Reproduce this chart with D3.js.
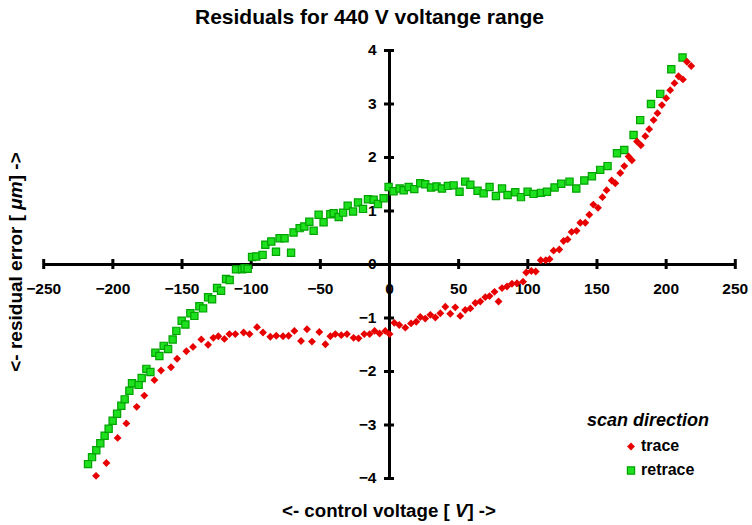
<!DOCTYPE html>
<html>
<head>
<meta charset="utf-8">
<script src="https://cdn.jsdelivr.net/npm/d3@7"></script>
<style>
  body { margin: 0; background: #fff; }
  svg { display: block; font-family: "Liberation Sans", Arial, sans-serif; }
</style>
</head>
<body>
<div id="chart"></div>
<script>
// Residuals for 440 V voltage range: trace vs retrace scan
const xTicks = [-250, -200, -150, -100, -50, 0, 50, 100, 150, 200, 250];
const yTicks = [-4, -3, -2, -1, 0, 1, 2, 3, 4];

const traceV = [-211.8,-204.3,-196.2,-189.9,-182.4,-176.9,-169.6,-164.8,-157.6,-153.2,-146.5,-141.7,-135.7,-130.8,-127.0,-123.4,-119.0,-115.4,-111.1,-105.1,-100.8,-95.4,-91.1,-85.8,-81.5,-76.6,-72.6,-68.4,-63.6,-59.3,-55.7,-50.4,-46.0,-42.4,-38.8,-34.5,-30.4,-25.6,-22.0,-17.9,-14.0,-10.4,-6.8,-2.7,0.4,3.8,7.4,11.8,15.9,19.7,22.6,26.2,29.9,33.5,37.1,40.7,44.3,47.9,51.5,55.1,58.8,62.4,66.0,69.6,72.7,76.3,79.2,81.7,85.3,88.9,92.5,96.9,99.2,102.9,106.1,109.7,113.3,116.1,119.0,123.1,126.2,129.1,132.0,135.6,138.3,141.9,144.8,147.7,151.1,154.3,157.3,161.0,163.6,167.2,170.1,173.2,175.6,179.3,182.1,185.3,188.1,191.3,194.1,197.3,200.4,203.3,206.4,209.3,212.5,215.4,218.5];
const traceR = [-3.96,-3.72,-3.25,-2.98,-2.67,-2.46,-2.17,-1.99,-1.93,-1.77,-1.63,-1.55,-1.41,-1.51,-1.38,-1.35,-1.40,-1.31,-1.31,-1.28,-1.31,-1.18,-1.28,-1.36,-1.34,-1.35,-1.34,-1.25,-1.44,-1.22,-1.45,-1.27,-1.50,-1.35,-1.31,-1.33,-1.31,-1.38,-1.39,-1.31,-1.31,-1.25,-1.30,-1.25,-1.31,-1.10,-1.14,-1.19,-1.11,-1.08,-0.99,-1.02,-0.95,-1.00,-0.92,-0.80,-0.93,-0.81,-0.97,-0.86,-0.83,-0.73,-0.70,-0.62,-0.60,-0.52,-0.70,-0.45,-0.42,-0.37,-0.36,-0.33,-0.16,-0.13,-0.14,0.07,0.07,0.09,0.25,0.27,0.43,0.46,0.60,0.62,0.77,0.77,0.92,1.11,1.05,1.25,1.38,1.56,1.51,1.70,1.83,2.01,1.94,2.29,2.22,2.39,2.52,2.69,2.82,2.97,3.10,3.25,3.38,3.51,3.45,3.78,3.70];

const retraceV = [-217.6,-214.7,-211.6,-208.7,-205.6,-202.7,-199.8,-196.6,-193.5,-191.1,-187.7,-185.8,-181.0,-178.8,-175.4,-172.5,-168.9,-166.0,-162.9,-159.7,-156.4,-153.7,-149.9,-147.2,-143.6,-140.7,-137.1,-134.4,-130.8,-127.9,-124.3,-121.4,-117.8,-115.2,-110.6,-106.3,-104.4,-102.2,-99.0,-95.9,-91.4,-89.4,-85.1,-81.7,-79.1,-75.5,-70.8,-69.0,-64.6,-61.2,-57.6,-54.5,-50.9,-47.3,-42.4,-40.0,-36.4,-33.2,-29.9,-26.0,-22.4,-18.8,-15.2,-11.1,-8.0,-3.9,-0.3,3.3,7.7,10.6,14.2,18.3,22.6,26.2,30.4,34.4,38.3,42.6,46.7,51.0,55.1,58.8,64.0,68.4,72.7,77.3,81.7,85.7,91.3,95.4,100.2,104.5,109.9,114.2,119.7,124.5,130.5,135.4,141.2,146.7,152.7,158.0,164.8,170.1,176.8,181.6,189.4,196.1,204.1,212.2];
const retraceR = [-3.74,-3.61,-3.48,-3.35,-3.21,-3.08,-2.93,-2.80,-2.65,-2.53,-2.37,-2.23,-2.26,-2.13,-1.96,-2.02,-1.66,-1.72,-1.53,-1.59,-1.41,-1.25,-1.06,-1.13,-0.92,-0.97,-0.79,-0.83,-0.62,-0.66,-0.45,-0.50,-0.28,-0.30,-0.10,-0.10,-0.08,-0.09,0.13,0.14,0.17,0.36,0.42,0.23,0.48,0.48,0.21,0.59,0.67,0.70,0.79,0.62,0.92,0.78,0.93,0.95,0.88,0.96,1.09,0.98,1.15,1.03,1.21,1.20,1.12,1.23,1.44,1.36,1.41,1.38,1.44,1.40,1.51,1.49,1.43,1.45,1.41,1.46,1.47,1.35,1.54,1.48,1.37,1.32,1.44,1.27,1.41,1.29,1.34,1.25,1.35,1.31,1.33,1.35,1.43,1.50,1.54,1.41,1.56,1.64,1.76,1.83,2.07,2.13,2.41,2.69,2.99,3.18,3.64,3.86];

const width = 752, height = 525;
const red = "#e80000", greenFill = "#1ee01e", greenStroke = "#00a300";

const svg = d3.select("#chart").append("svg")
  .attr("width", width).attr("height", height);
svg.append("rect").attr("width", width).attr("height", height).attr("fill", "#fff");

const x = d3.scaleLinear().domain([-250, 250]).range([43.2, 734.8]);
const y = d3.scaleLinear().domain([-4, 4]).range([478, 50]);

// title
svg.append("text").attr("x", 369.5).attr("y", 24).attr("text-anchor", "middle")
  .attr("font-size", 21).attr("font-weight", "bold").text("Residuals for 440 V voltange range");

// x axis through y = 0, cross ticks
const gx = svg.append("g").attr("transform", `translate(0,${y(0)})`)
  .call(d3.axisBottom(x).tickValues(xTicks).tickSizeInner(5).tickSizeOuter(0));
gx.select(".domain").attr("stroke-width", 3);
gx.selectAll(".tick line").attr("y1", -5).attr("y2", 5).attr("stroke-width", 3);
gx.selectAll(".tick text").attr("y", 30).attr("dy", null)
  .attr("font-size", 15.5).attr("font-weight", "bold").attr("font-family", null);

// y axis through x = 0, cross ticks
const gy = svg.append("g").attr("transform", `translate(${x(0)},0)`)
  .call(d3.axisLeft(y).tickValues(yTicks).tickSizeInner(5).tickSizeOuter(0));
gy.select(".domain").attr("stroke-width", 3);
gy.selectAll(".tick line").attr("x1", 5).attr("x2", -5).attr("stroke-width", 3);
gy.selectAll(".tick text").attr("x", -12.5)
  .attr("font-size", 15.5).attr("font-weight", "bold").attr("font-family", null);

// axis titles
const xt = svg.append("text").attr("x", 389).attr("y", 517).attr("text-anchor", "middle")
  .attr("font-size", 18.7).attr("font-weight", "bold");
xt.append("tspan").text("<- control voltage [ ");
xt.append("tspan").attr("font-style", "italic").text("V");
xt.append("tspan").text("] ->");

const yt = svg.append("text").attr("transform", "translate(22,262) rotate(-90)")
  .attr("text-anchor", "middle").attr("font-size", 19).attr("font-weight", "bold");
yt.append("tspan").text("<- residual error [ ");
yt.append("tspan").attr("font-style", "italic").text("μm");
yt.append("tspan").text("] ->");

// markers
const square = d3.symbol().type(d3.symbolSquare).size(52);
const diamond = d3.symbol().type(d3.symbolSquare).size(31);

svg.append("g").selectAll("path").data(d3.zip(retraceV, retraceR)).join("path")
  .attr("d", square)
  .attr("transform", d => `translate(${x(d[0])},${y(d[1])})`)
  .attr("fill", greenFill).attr("stroke", greenStroke).attr("stroke-width", 1.2);

svg.append("g").selectAll("path").data(d3.zip(traceV, traceR)).join("path")
  .attr("d", diamond)
  .attr("transform", d => `translate(${x(d[0])},${y(d[1])}) rotate(45)`)
  .attr("fill", red);

// legend
const legend = svg.append("g");
legend.append("text").attr("x", 587).attr("y", 426).attr("font-size", 18)
  .attr("font-weight", "bold").attr("font-style", "italic").text("scan direction");
legend.append("path").attr("d", diamond).attr("transform", "translate(631,446.5) rotate(45)").attr("fill", red);
legend.append("text").attr("x", 641).attr("y", 451).attr("font-size", 16)
  .attr("font-weight", "bold").text("trace");
legend.append("path").attr("d", square).attr("transform", "translate(631,470.5)")
  .attr("fill", greenFill).attr("stroke", greenStroke).attr("stroke-width", 1.2);
legend.append("text").attr("x", 641).attr("y", 475).attr("font-size", 16)
  .attr("font-weight", "bold").text("retrace");
</script>
</body>
</html>
